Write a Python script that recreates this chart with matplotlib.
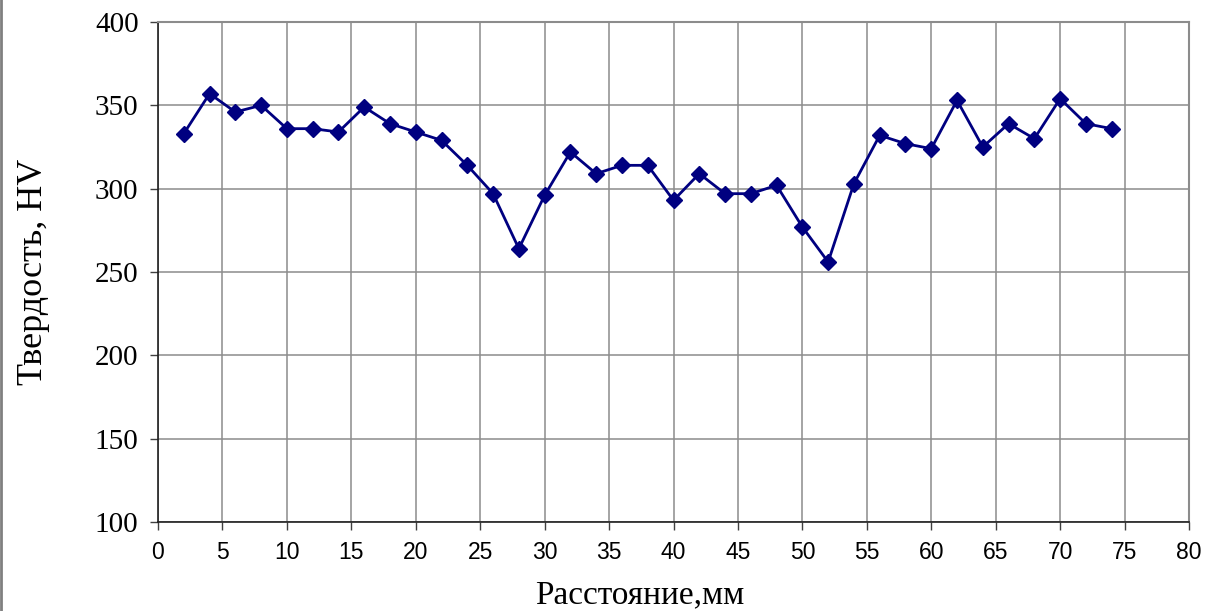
import matplotlib
matplotlib.use("Agg")
import matplotlib.pyplot as plt
from matplotlib.lines import Line2D

# Данные: расстояние (мм) и твердость (HV)
distance = [2, 4, 6, 8, 10, 12, 14, 16, 18, 20, 22, 24, 26, 28, 30, 32, 34, 36, 38,
            40, 42, 44, 46, 48, 50, 52, 54, 56, 58, 60, 62, 64, 66, 68, 70, 72, 74]
hardness = [333, 357, 346, 350, 336, 336, 334, 349, 339, 334, 329, 314, 297, 264, 296, 322, 309, 314, 314,
            293, 309, 297, 297, 302, 277, 256, 303, 332, 327, 324, 353, 325, 339, 330, 354, 339, 336]

x_ticks = list(range(0, 81, 5))
y_ticks = list(range(100, 401, 50))

fig = plt.figure(figsize=(12.14, 6.11), dpi=100)
ax = fig.add_axes([158 / 1214, 1 - 522 / 611, (1189 - 158) / 1214, (522 - 22) / 611])

ax.plot(distance, hardness, color="#000080", lw=2, marker="D", markersize=8.5,
        markerfacecolor="#000080", markeredgecolor="#000080", zorder=3)

ax.set_xlim(0, 80)
ax.set_ylim(100, 400)
ax.set_xticks(x_ticks)
ax.set_yticks(y_ticks)
ax.grid(True, color="#8c8c8c", lw=1.1)
ax.set_axisbelow(True)

for lab in ax.get_xticklabels():
    lab.set_fontfamily("Liberation Sans")
    lab.set_fontsize(16.5)
for lab in ax.get_yticklabels():
    lab.set_fontfamily("Liberation Serif")
    lab.set_fontsize(21)

ax.tick_params(axis="both", direction="out", length=6, width=1, color="#404040")
ax.tick_params(axis="x", pad=8)
ax.tick_params(axis="y", pad=8)

for side in ["top", "right"]:
    ax.spines[side].set_color("#8c8c8c")
    ax.spines[side].set_linewidth(1.5)
for side in ["left", "bottom"]:
    ax.spines[side].set_color("#202020")
    ax.spines[side].set_linewidth(1.2)

ax.set_xlabel("Расстояние,мм", fontfamily="Liberation Serif", fontsize=24)
ax.xaxis.set_label_coords((640 - 158) / 1031, -0.115)
ax.set_ylabel("Твердость, HV", fontfamily="Liberation Serif", fontsize=26, labelpad=32)

fig.add_artist(Line2D([0.001, 0.001], [0, 1], transform=fig.transFigure, color="#808080", lw=2))

fig.savefig("out.png", dpi=100, facecolor="white")
